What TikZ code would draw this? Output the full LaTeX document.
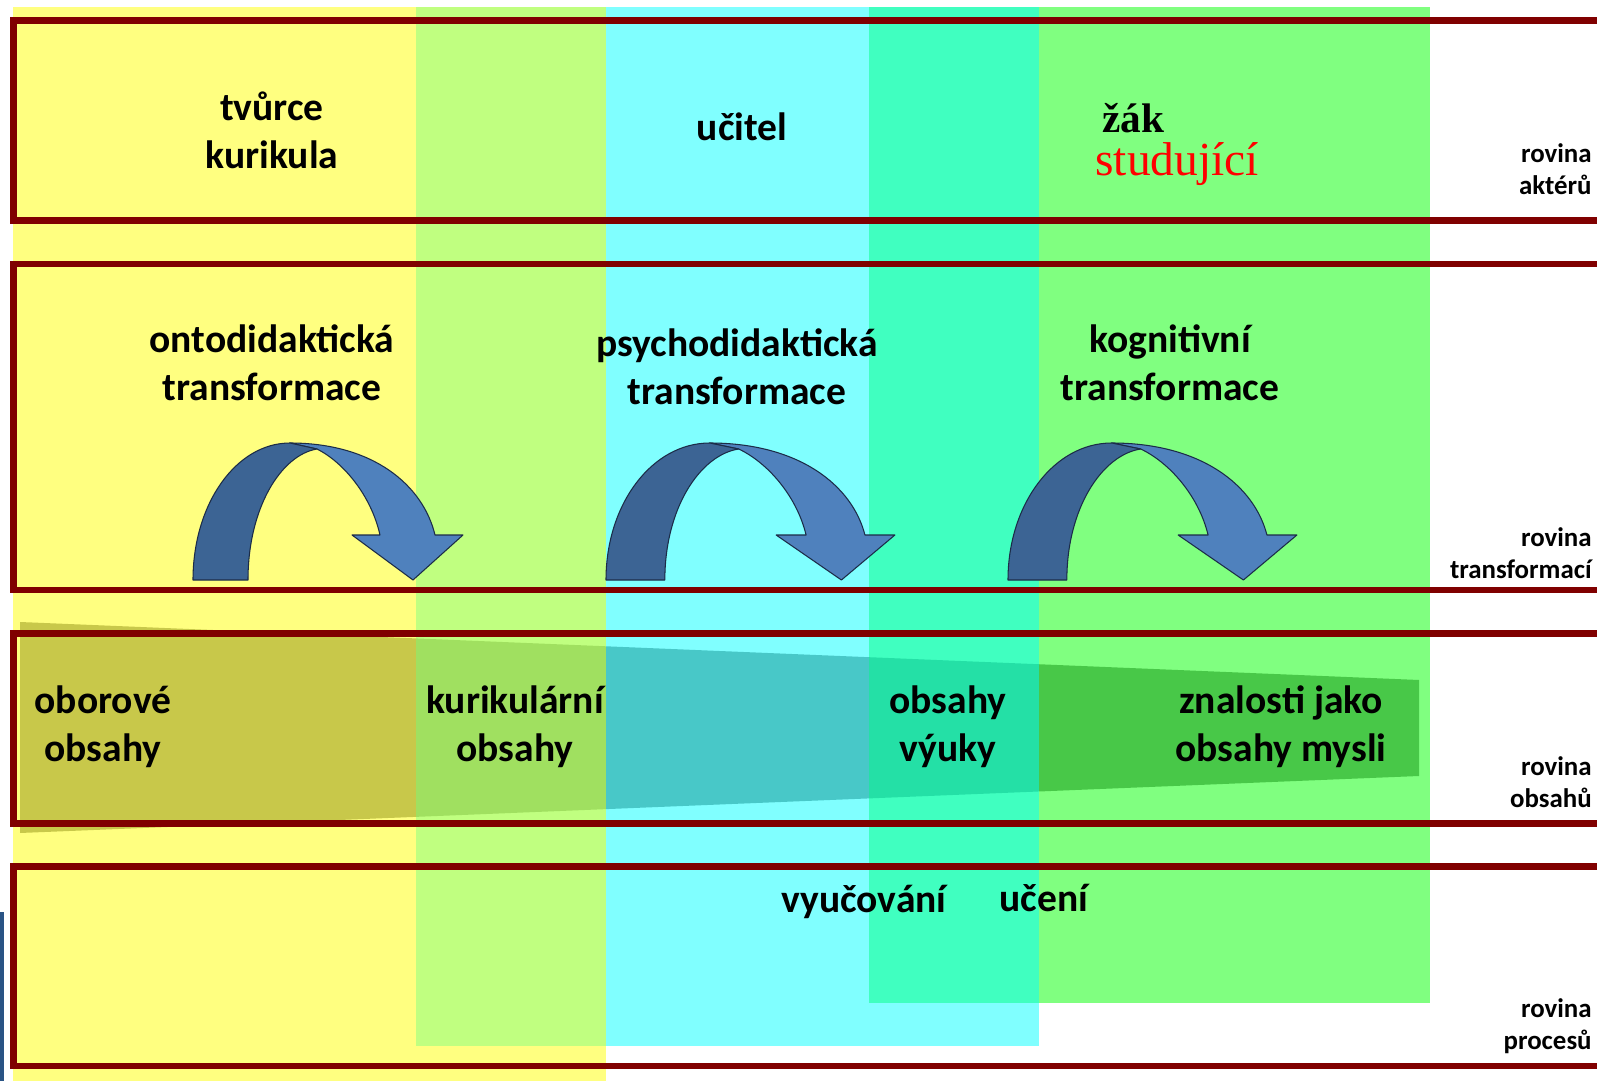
\documentclass[tikz,border=0pt]{standalone}
\usepackage{fontspec}
\setmainfont{Carlito}
\newfontfamily\serif{Liberation Serif}
\usepackage{xcolor}
\usepackage{tikz}

\definecolor{colYellow}{HTML}{FFFF80}
\definecolor{colLime}{HTML}{C0FF80}
\definecolor{colCyan}{HTML}{80FFFF}
\definecolor{colTeal}{HTML}{40FFC0}
\definecolor{colGreen}{HTML}{80FF80}
\definecolor{frameRed}{HTML}{800000}
\definecolor{arrowLight}{HTML}{4F81BD}
\definecolor{arrowDark}{HTML}{3C6494}
\definecolor{arrowLine}{HTML}{1C2C48}
\definecolor{barBlue}{HTML}{2A5485}

\begin{document}
\begin{tikzpicture}[x=0.02cm,y=-0.02cm,
  planebox/.style={draw=frameRed,line width=0.13cm},
  txt/.style={font=\fontsize{22.5}{27.3}\selectfont\bfseries,align=center},
  planetxt/.style={font=\fontsize{15.3}{18}\selectfont\bfseries,align=right,anchor=east,inner sep=0pt}]
\useasboundingbox (0,0) rectangle (1597,1081);

% columns
\fill[colYellow] (13.3,7) rectangle (606,1081);
\fill[colCyan] (415.5,7) rectangle (1039,1046);
\fill[colGreen] (869,7) rectangle (1430,1003);
\fill[colLime] (415.5,7) rectangle (606,1046);
\fill[colTeal] (869,7) rectangle (1039,1003);
\fill[barBlue] (0,912) rectangle (4,1081);

% wedge of contents
\begin{scope}
\clip (20,622) -- (1419,680) -- (1419,776) -- (20,833) -- cycle;
\fill[fill={rgb,255:red,200;green,200;blue,74}] (13,600) rectangle (415.5,840);
\fill[fill={rgb,255:red,160;green,224;blue,96}] (415.5,600) rectangle (606,840);
\fill[fill={rgb,255:red,72;green,200;blue,200}] (606,600) rectangle (869,840);
\fill[fill={rgb,255:red,36;green,224;blue,166}] (869,600) rectangle (1039,840);
\fill[fill={rgb,255:red,72;green,200;blue,72}] (1039,600) rectangle (1430,840);
\end{scope}

% planes
\draw[planebox] (1600,20.7) -| (13.3,220.7) -- (1600,220.7);
\draw[planebox] (1600,264) -| (13.3,590) -- (1600,590);
\draw[planebox] (1600,633.5) -| (13.3,823.5) -- (1600,823.5);
\draw[planebox] (1600,866.5) -| (13.3,1066) -- (1600,1066);

% curved arrows
\foreach \ax/\sc in {193/1,606/1.07,1008/1.07}{
\begin{scope}[shift={(\ax,580)},xscale=\sc]
\filldraw[fill=arrowLight,draw=arrowLine,line width=0.6pt,line join=round] (97,-137) .. controls (180,-137) and (230,-95) .. (242,-45) -- (270,-45) -- (220,0) -- (159,-45) -- (187,-45) .. controls (178,-85) and (150,-118) .. (124,-131) -- cycle;
\filldraw[fill=arrowDark,draw=arrowLine,line width=0.6pt,line join=round] (0,0) .. controls (0,-76) and (43,-137) .. (97,-137) -- (124,-131) .. controls (88,-125) and (55,-72) .. (55,0) -- cycle;
\end{scope}
}

% actors
\node[txt] (tvurce) at (272,130) {tvůrce\\kurikula};
\node[txt] (ucitel) at (742,127) {učitel};
\node[anchor=base west,inner sep=0pt,font=\serif\fontsize{23.5}{28}\selectfont\bfseries] (zak) at (1102,133) {žák};
\node[anchor=base west,inner sep=0pt,font=\serif\fontsize{27}{32}\selectfont,text=red] (studujici) at (1095,176) {studující};

% transformations
\node[txt] (onto) at (272,363) {ontodidaktická\\transformace};
\node[txt] (psycho) at (737,367) {psychodidaktická\\transformace};
\node[txt] (kogn) at (1170,363) {kognitivní\\transformace};

% contents
\node[txt] (obor) at (103,727) {oborové\\obsahy};
\node[txt] (kurik) at (515,727) {kurikulární\\obsahy};
\node[txt] (vyuka) at (948,727) {obsahy\\výuky};
\node[txt] (znalosti) at (1281,727) {znalosti jako\\obsahy mysli};

% processes
\node[txt] (vyucovani) at (864,902) {vyučování};
\node[txt] (uceni) at (1044,898) {učení};

% plane labels
\node[planetxt] (rovA) at (1592,169) {rovina\\aktérů};
\node[planetxt] (rovT) at (1592,553) {rovina\\transformací};
\node[planetxt] (rovO) at (1592,782) {rovina\\obsahů};
\node[planetxt] (rovP) at (1592,1026) {rovina\\procesů};
\end{tikzpicture}
\end{document}
